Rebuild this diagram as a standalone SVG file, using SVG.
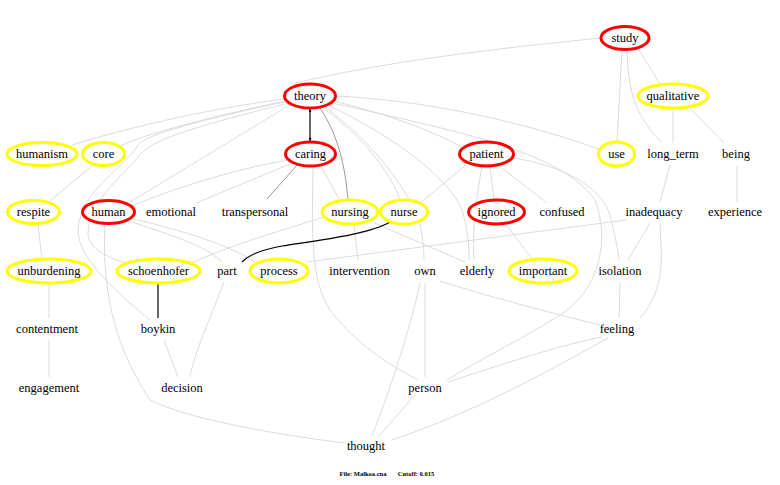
<svg xmlns="http://www.w3.org/2000/svg" width="780" height="485" viewBox="0 0 780 485">
<style>
text{font-size:12.5px;fill:#000;text-anchor:middle}
.e{fill:none;stroke:#dcdcdc;stroke-width:1}
.g{fill:none;stroke:#999;stroke-width:1}
.k{fill:none;stroke:#000;stroke-width:1.2}
.r{fill:#fff;stroke:#f00;stroke-width:3}
.y{fill:#fff;stroke:#ff0;stroke-width:3}
.f{font-size:6.5px;font-weight:bold}
</style>
<defs>
<marker id="a" viewBox="0 0 6 6" refX="6" refY="3" markerWidth="2.5" markerHeight="2.5" orient="auto-start-reverse"><path d="M0,0L6,3L0,6z" fill="#000"/></marker>
</defs>
<rect width="780" height="485" fill="#fff"/>
<g id="connectors">
<path class="e" d="M601,38 C500,48 380,62 292,84"/>
<path class="e" d="M284,99 C200,110 120,130 72,145"/>
<path class="e" d="M285,101 C220,115 150,132 120,146"/>
<path class="e" d="M288,106 L130,202"/>
<path class="e" d="M284,102 C200,120 145,135 138,145 C128,165 80,190 78,230 C78,260 120,295 150,320"/>
<path class="e" d="M285,104 C200,125 150,140 140,155 C120,180 88,200 88,235 C90,250 110,258 125,263"/>
<path class="e" d="M336,96 C420,100 520,120 601,150"/>
<path class="e" d="M334,101 C390,115 430,130 462,147"/>
<path class="e" d="M333,103 C450,130 560,150 595,200 C610,240 600,290 560,315 C520,340 470,365 447,380"/>
<path class="e" d="M330,106 C400,140 450,180 462,210 C468,230 469,245 469,260"/>
<path class="e" d="M325,107 C370,140 410,190 420,225 C423,240 424,250 424,260"/>
<path class="e" d="M322,107 C360,135 390,170 400,200"/>
<path class="e" d="M513,158 C560,165 600,185 610,215 C615,235 618,250 619,260"/>
<path class="e" d="M466,165 L420,203"/>
<path class="e" d="M490,166 L494,200"/>
<path class="e" d="M498,165 L547,203"/>
<path class="e" d="M482,166 C476,200 472,230 474,260"/>
<path class="e" d="M288,160 C230,170 170,190 132,206"/>
<path class="e" d="M290,164 L196,203"/>
<path class="e" d="M321,166 L340,201"/>
<path class="e" d="M313,167 C312,230 310,280 330,310 C360,350 400,370 418,380"/>
<path class="e" d="M324,217 C290,228 230,245 192,263"/>
<path class="e" d="M354,224 L358,260"/>
<path class="e" d="M372,222 L465,262"/>
<path class="e" d="M132,222 C170,235 205,245 222,262"/>
<path class="e" d="M134,219 C180,230 230,245 255,262"/>
<path class="e" d="M105,224 C102,280 110,340 150,400 C190,420 280,435 345,443"/>
<path class="e" d="M307,262 L626,220"/>
<path class="e" d="M425,283 L425,377"/>
<path class="e" d="M420,283 C410,330 390,390 372,436"/>
<path class="e" d="M440,281 C500,300 560,315 600,325"/>
<path class="e" d="M415,395 L378,437"/>
<path class="e" d="M448,382 C500,365 560,345 602,337"/>
<path class="e" d="M608,338 C550,370 480,410 392,440"/>
<path class="e" d="M660,223 C662,260 665,290 640,318"/>
<path class="e" d="M650,223 L628,260"/>
<path class="e" d="M620,283 L619,318"/>
<path class="e" d="M670,165 L660,202"/>
<path class="e" d="M505,223 L533,260"/>
<path class="e" d="M224,282 C210,320 195,350 190,377"/>
<path class="e" d="M164,340 L178,377"/>
<path class="e" d="M49,283 L49,318"/>
<path class="e" d="M49,340 L49,377"/>
<path class="e" d="M38,224 L42,260"/>
<path class="e" d="M93,165 L50,201"/>
<path class="e" d="M622,50 C620,90 618,120 617,142"/>
<path class="e" d="M627,50 C628,100 640,120 662,143"/>
<path class="e" d="M637,47 L660,84"/>
<path class="e" d="M673,108 L673,143"/>
<path class="e" d="M688,106 L724,143"/>
<path class="e" d="M737,166 L737,202"/>
<path class="g" d="M320,108 C338,135 345,165 348,200"/>
<path class="g" d="M298,164 L267,199"/>
<path class="k" d="M310,109 L310,141" marker-start="url(#a)" marker-end="url(#a)"/>
<path class="k" d="M158,284 L158,318"/>
<path class="k" d="M390,222 C370,234 320,240 282,246 C262,250 250,254 242,262"/>
</g>
<g font-family="Liberation Serif, Times New Roman, DejaVu Serif, serif">
<g id="study"><ellipse class="r" cx="625" cy="38" rx="24" ry="11.5"/><text x="625" y="42">study</text></g>
<g id="theory"><ellipse class="r" cx="310" cy="96" rx="25.5" ry="12"/><text x="310" y="100">theory</text></g>
<g id="qualitative"><ellipse class="y" cx="673" cy="96" rx="35" ry="12"/><text x="673" y="100">qualitative</text></g>
<g id="humanism"><ellipse class="y" cx="42" cy="154" rx="35" ry="11.5"/><text x="42" y="158">humanism</text></g>
<g id="core"><ellipse class="y" cx="103.5" cy="154" rx="21" ry="11.5"/><text x="103.5" y="158">core</text></g>
<g id="caring"><ellipse class="r" cx="310.5" cy="154" rx="25" ry="12"/><text x="310.5" y="158">caring</text></g>
<g id="patient"><ellipse class="r" cx="486.5" cy="154" rx="27" ry="12"/><text x="486.5" y="158">patient</text></g>
<g id="use"><ellipse class="y" cx="616.5" cy="154" rx="18" ry="12"/><text x="616.5" y="158">use</text></g>
<g id="long_term"><text x="673" y="158">long_term</text></g>
<g id="being"><text x="736" y="158">being</text></g>
<g id="respite"><ellipse class="y" cx="33.5" cy="212" rx="26" ry="11.5"/><text x="33.5" y="216">respite</text></g>
<g id="human"><ellipse class="r" cx="108.5" cy="212" rx="26" ry="11.5"/><text x="108.5" y="216">human</text></g>
<g id="emotional"><text x="171" y="216">emotional</text></g>
<g id="transpersonal"><text x="255" y="216">transpersonal</text></g>
<g id="nursing"><ellipse class="y" cx="350" cy="212" rx="28" ry="12"/><text x="350" y="216">nursing</text></g>
<g id="nurse"><ellipse class="y" cx="404" cy="212" rx="23.5" ry="12"/><text x="404" y="216">nurse</text></g>
<g id="ignored"><ellipse class="r" cx="496.5" cy="212" rx="28" ry="12"/><text x="496.5" y="216">ignored</text></g>
<g id="confused"><text x="562" y="216">confused</text></g>
<g id="inadequacy"><text x="654" y="216">inadequacy</text></g>
<g id="experience"><text x="735" y="216">experience</text></g>
<g id="unburdening"><ellipse class="y" cx="49" cy="271" rx="42" ry="12"/><text x="49" y="275">unburdening</text></g>
<g id="schoenhofer"><ellipse class="y" cx="158.5" cy="271" rx="41.5" ry="12"/><text x="158.5" y="275">schoenhofer</text></g>
<g id="part"><text x="227" y="275">part</text></g>
<g id="process"><ellipse class="y" cx="279" cy="271" rx="29" ry="12"/><text x="279" y="275">process</text></g>
<g id="intervention"><text x="359.5" y="275">intervention</text></g>
<g id="own"><text x="425" y="275">own</text></g>
<g id="elderly"><text x="477" y="275">elderly</text></g>
<g id="important"><ellipse class="y" cx="543" cy="271" rx="34" ry="12"/><text x="543" y="275">important</text></g>
<g id="isolation"><text x="620" y="275">isolation</text></g>
<g id="contentment"><text x="47" y="333">contentment</text></g>
<g id="boykin"><text x="158" y="333">boykin</text></g>
<g id="feeling"><text x="617" y="333">feeling</text></g>
<g id="engagement"><text x="49" y="392">engagement</text></g>
<g id="decision"><text x="182" y="392">decision</text></g>
<g id="person"><text x="425" y="392">person</text></g>
<g id="thought"><text x="366" y="450">thought</text></g>
<g id="footer"><text class="f" x="363" y="476">File: Malkoa.cna</text><text class="f" x="416" y="476">Cutoff: 0.015</text></g>
</g>
</svg>
